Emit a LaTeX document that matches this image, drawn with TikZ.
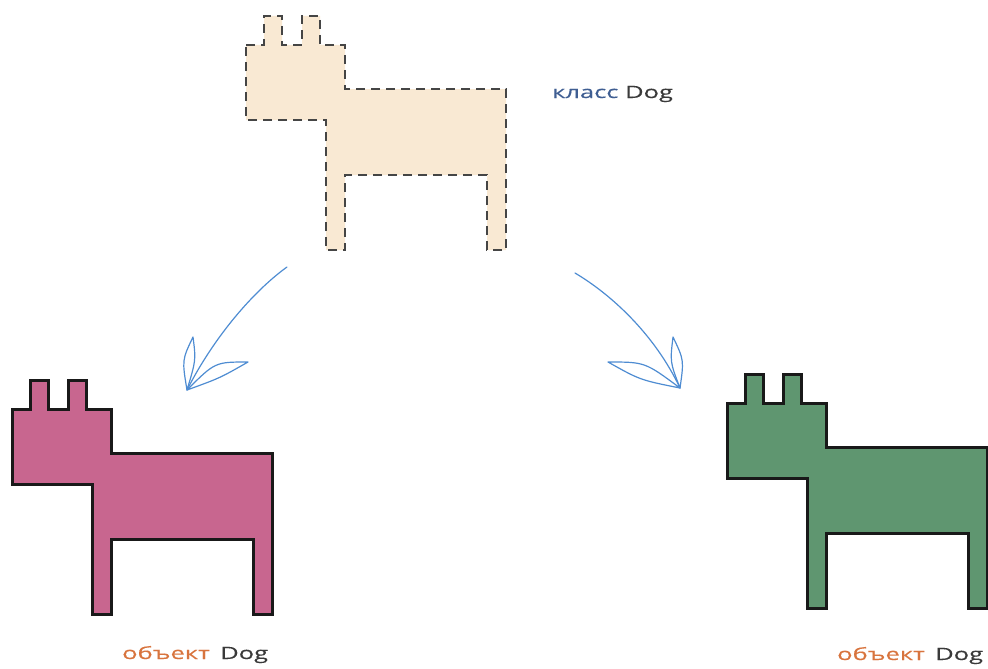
\documentclass[tikz,border=0pt]{standalone}
\usepackage{fontspec}
\usepackage{tikz}
\usetikzlibrary{positioning}
\newfontfamily\handfont[FakeStretch=1.5,FakeBold=0.4]{Open Sans}
\definecolor{beigedog}{HTML}{F9E9D3}
\definecolor{dashgray}{HTML}{454545}
\definecolor{pinkdog}{HTML}{C8668F}
\definecolor{greendog}{HTML}{5F9670}
\definecolor{klassblue}{HTML}{3F5E92}
\definecolor{objorange}{HTML}{D8743E}
\definecolor{dogtext}{HTML}{3A3A3A}
\definecolor{arrowblue}{HTML}{4E8CD2}
\tikzset
{
    dogbody/.pic    = {\path[pic actions] (0,0) -- (18,0) -- (18,-29) -- (36,-29) -- (36,0) -- (56,0) -- (56,-29) -- (74,-29) -- (74,0) -- (99,0) -- (99,44) -- (260,44) -- (260,205) -- (241,205) -- (241,130) -- (99,130) -- (99,205) -- (80,205) -- (80,75) -- (0,75) -- cycle;},
    classdog/.style = {draw=dashgray, fill=beigedog, line width=2pt, dash pattern=on 9pt off 6pt, line join=miter},
    objdog/.style   = {draw=black!90, line width=3pt, line join=miter},
    doglabel/.style = {anchor=base west, inner sep=0pt, font=\handfont\fontsize{17}{19}\selectfont, text=dogtext},
    arrowline/.style = {draw=arrowblue, line width=1.2pt, line cap=round, line join=round}
}
\begin{document}
\begin{tikzpicture}[x=1pt,y=-1pt]
\useasboundingbox (0,0) rectangle (988,669);
\pic[classdog] at (246,45) {dogbody};
\pic[objdog, fill=pinkdog] at (12,409) {dogbody};
\pic[objdog, fill=greendog] at (727,403) {dogbody};
\node[doglabel] (classlbl) at (552,98) {{\color{klassblue}класс} Dog};
\node[doglabel] (leftlbl) at (122,659) {{\color{objorange}объект}\hspace{0.6em}Dog};
\node[doglabel] (rightlbl) at (837,660) {{\color{objorange}объект}\hspace{0.6em}Dog};
% left arrow
\coordinate (lstart) at (287,267);
\coordinate (ltip) at (187,390);
\coordinate (lbarbup) at (193,337);
\coordinate (lbarbright) at (248,362);
\draw[arrowline] (lstart) .. controls (255,290) and (215,335) .. (ltip);
\draw[arrowline] (ltip) .. controls (182,360) .. (lbarbup) .. controls (196,360) .. (ltip);
\draw[arrowline] (ltip) .. controls (215,362) .. (lbarbright) .. controls (220,378) .. (ltip);
% right arrow
\coordinate (rstart) at (575,273);
\coordinate (rtip) at (680,388);
\coordinate (rbarbup) at (673,337);
\coordinate (rbarbleft) at (608,362);
\draw[arrowline] (rstart) .. controls (612,295) and (655,335) .. (rtip);
\draw[arrowline] (rtip) .. controls (684,360) .. (rbarbup) .. controls (670,362) .. (rtip);
\draw[arrowline] (rtip) .. controls (645,362) .. (rbarbleft) .. controls (640,380) .. (rtip);
\end{tikzpicture}
\end{document}
